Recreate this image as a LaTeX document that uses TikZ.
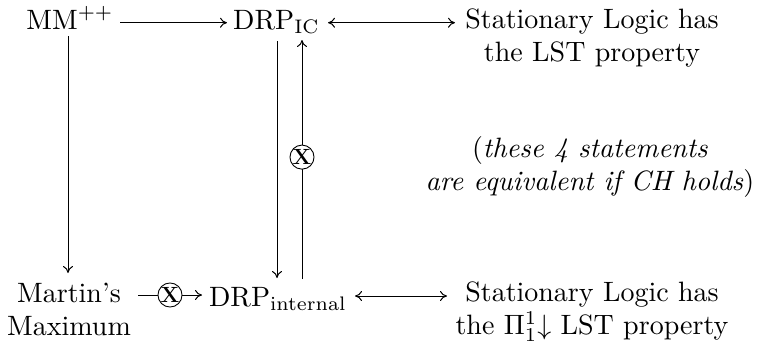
\RequirePackage{fix-cm}
\documentclass[tikz,border=0pt]{standalone}
\usepackage{graphicx}
\usetikzlibrary{arrows.meta}
% text is set at 10pt and magnified, like a diagram blown up for a slide
\newcommand\magtext[1]{\scalebox{2.8}{#1}}
% two centred lines, baseline on the first one
\newcommand\twolines[2]{\vtop{\baselineskip=12pt\halign{\hfil##\hfil\cr #1\cr #2\cr}}}
\begin{document}
\begin{tikzpicture}[x=1pt,y=-1pt,
  lbl/.style={inner sep=0pt, anchor=base, font=\normalsize},
  tip/.tip={To[length=7pt,width=10pt]},
  arr/.style={line width=1pt, -tip},
  darr/.style={line width=1pt, tip-tip},
  xmark/.style={circle, draw, line width=0.9pt, fill=white, inner sep=0pt,
    minimum size=24pt, font=\fontsize{22}{24}\selectfont\bfseries},
]
\useasboundingbox (0,0) rectangle (759,343);

% statements
\node[lbl] (mm)  at (70,29)    {\magtext{MM$^{++}$}};
\node[lbl] (ic)  at (276.5,29) {\magtext{DRP$_{\mathrm{IC}}$}};
\node[lbl] (slt) at (592,28)
  {\magtext{\twolines{Stationary Logic has}{the LST property}}};
\node[lbl] (mx)  at (69,302)
  {\magtext{\twolines{Martin's}{Maximum}}};
\node[lbl] (int) at (278,306)  {\magtext{DRP$_{\mathrm{internal}}$}};
\node[lbl] (slb) at (592,301)
  {\magtext{\twolines{Stationary Logic has}{the $\Pi^1_1{\downarrow}$ LST property}}};
\node[lbl] (note) at (590,157)
  {\magtext{\twolines{(\textit{these 4 statements}}{\textit{are equivalent if CH holds})}}};

% implications
\draw[arr]  ([shift={(50,-6.3)}]mm.base)   -- ([shift={(-49.5,-6.3)}]ic.base);
\draw[darr] ([shift={(51.5,-6.3)}]ic.base) -- ([shift={(-137,-5.3)}]slt.base);
\draw[arr]  ([shift={(-2,7)}]mm.base)      -- ([shift={(-1,-29)}]mx.base);
\draw[arr]  ([shift={(0.5,12)}]ic.base)    -- ([shift={(-1,-28)}]int.base);
\draw[arr]  ([shift={(24,-27)}]int.base)   -- node[xmark, pos=.51] (xv) {X} ([shift={(25.5,11)}]ic.base);
\draw[arr]  ([shift={(69,-7)}]mx.base)     -- node[xmark, pos=.5] (xh) {X} ([shift={(-76,-11)}]int.base);
\draw[darr] ([shift={(77,-10)}]int.base)   -- ([shift={(-145,-5)}]slb.base);
\end{tikzpicture}
\end{document}
